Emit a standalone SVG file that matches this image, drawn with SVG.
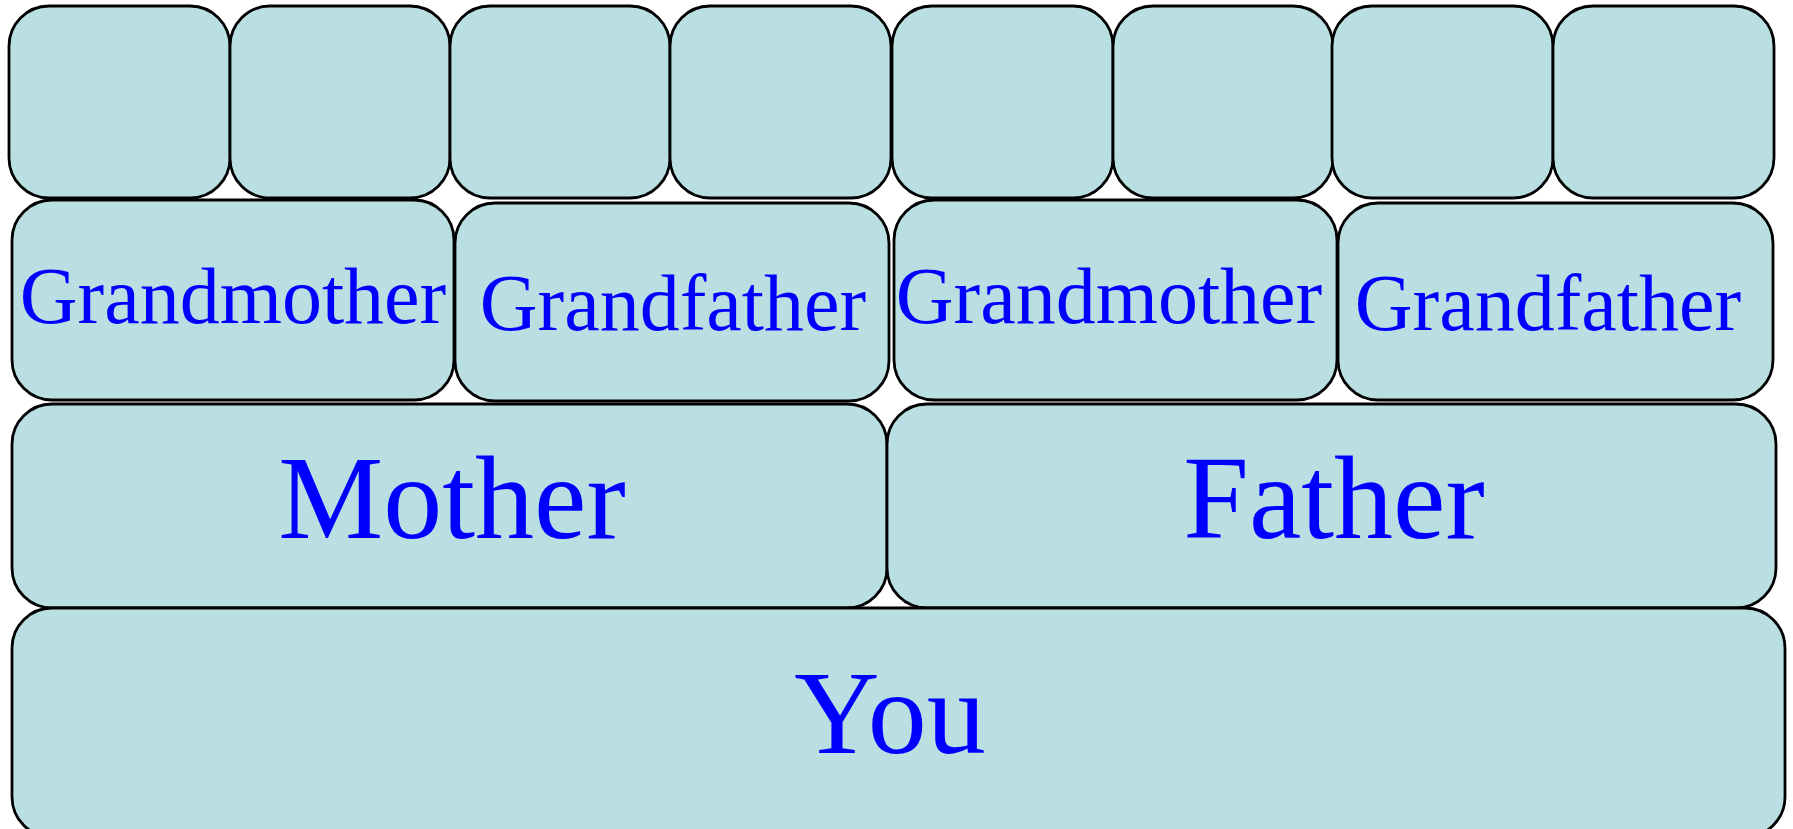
<svg xmlns="http://www.w3.org/2000/svg" width="1793" height="829" viewBox="0 0 1793 829">
<style>
.b{fill:#b9dfe2;stroke:#000;stroke-width:2.8}
.t{font-family:"Liberation Serif","Times New Roman",serif;fill:#0000ff;text-anchor:middle}
.s{font-size:80px}
.l{font-size:118px}
</style>
<rect width="1793" height="829" fill="#fff"/>
<g id="connectors"></g>
<g id="gg1"><rect class="b" x="9" y="6" width="221" height="192" rx="40"/></g>
<g id="gg2"><rect class="b" x="230" y="6" width="220" height="192" rx="40"/></g>
<g id="gg3"><rect class="b" x="450" y="6" width="220" height="192" rx="40"/></g>
<g id="gg4"><rect class="b" x="670" y="6" width="221" height="192" rx="40"/></g>
<g id="gg5"><rect class="b" x="892" y="6" width="221" height="192" rx="40"/></g>
<g id="gg6"><rect class="b" x="1113" y="6" width="220" height="192" rx="40"/></g>
<g id="gg7"><rect class="b" x="1332" y="6" width="221" height="192" rx="40"/></g>
<g id="gg8"><rect class="b" x="1553" y="6" width="221" height="192" rx="40"/></g>
<g id="grandmother1"><rect class="b" x="12" y="200" width="442" height="200" rx="40"/><text class="t s" x="233" y="323">Grandmother</text></g>
<g id="grandfather1"><rect class="b" x="455" y="203" width="434" height="198" rx="40"/><text class="t s" x="673" y="330">Grandfather</text></g>
<g id="grandmother2"><rect class="b" x="894" y="200" width="443" height="200" rx="40"/><text class="t s" x="1109" y="323">Grandmother</text></g>
<g id="grandfather2"><rect class="b" x="1338" y="203" width="435" height="197" rx="40"/><text class="t s" x="1548" y="330">Grandfather</text></g>
<g id="mother"><rect class="b" x="12" y="404" width="875" height="204" rx="40"/><text class="t l" x="452" y="538">Mother</text></g>
<g id="father"><rect class="b" x="887" y="404" width="889" height="204" rx="40"/><text class="t l" x="1334" y="538">Father</text></g>
<g id="you"><rect class="b" x="12" y="608" width="1773" height="229" rx="40"/><text class="t l" x="890" y="753">You</text></g>
</svg>
